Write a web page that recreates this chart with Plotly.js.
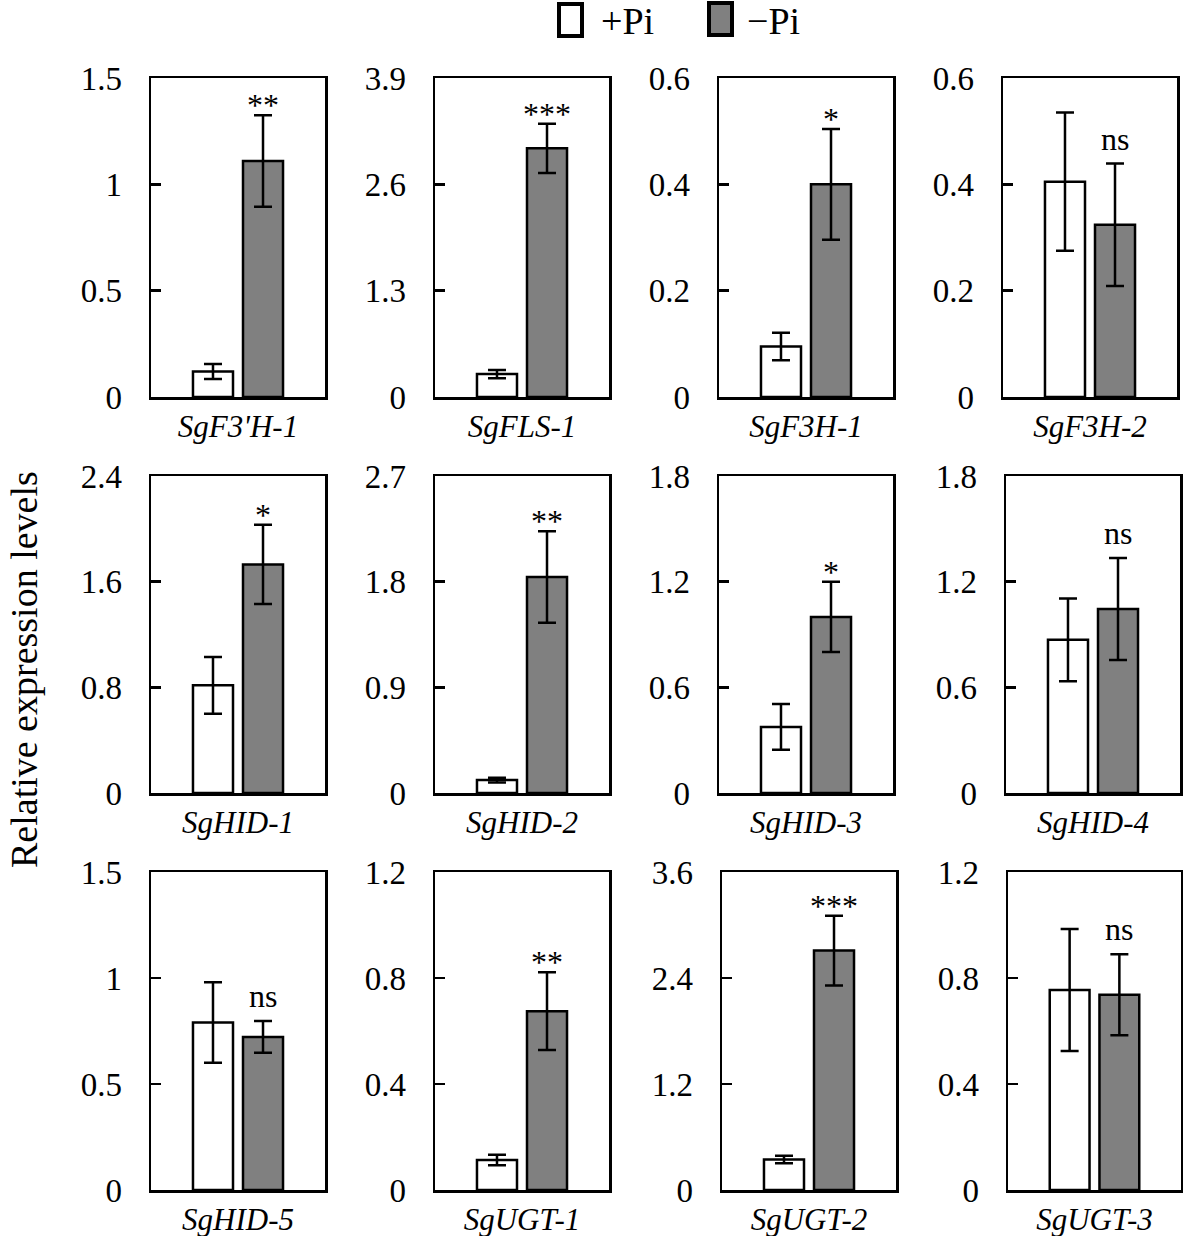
<!DOCTYPE html>
<html>
<head>
<meta charset="utf-8">
<script src="https://cdn.plot.ly/plotly-3.0.1.min.js"></script>
<style>html,body{margin:0;padding:0;background:#fff;}</style>
</head>
<body>
<div id="chart" style="width:1183px;height:1236px;"></div>
<script>
// ---- data ----
const genes = ["SgF3'H-1","SgFLS-1","SgF3H-1","SgF3H-2","SgHID-1","SgHID-2","SgHID-3","SgHID-4","SgHID-5","SgUGT-1","SgUGT-2","SgUGT-3"];
const plusPi      = [0.12, 0.28, 0.095, 0.405, 0.815, 0.11, 0.375, 0.87, 0.79, 0.113, 0.345, 0.755];
const plusPiErr   = [0.035, 0.05, 0.026, 0.13, 0.215, 0.02, 0.13, 0.235, 0.19, 0.02, 0.043, 0.23];
const minusPi     = [1.11, 3.04, 0.40, 0.324, 1.73, 1.84, 1.0, 1.045, 0.722, 0.675, 2.71, 0.737];
const minusPiErr  = [0.215, 0.30, 0.104, 0.115, 0.30, 0.39, 0.20, 0.29, 0.075, 0.147, 0.395, 0.153];
const signif      = ["**","***","*","ns","*","**","*","ns","ns","**","***","ns"];
const yMax        = [1.5, 3.9, 0.6, 0.6, 2.4, 2.7, 1.8, 1.8, 1.5, 1.2, 3.6, 1.2];
const yTickLabels = [
  ["0","0.5","1","1.5"],["0","1.3","2.6","3.9"],["0","0.2","0.4","0.6"],["0","0.2","0.4","0.6"],
  ["0","0.8","1.6","2.4"],["0","0.9","1.8","2.7"],["0","0.6","1.2","1.8"],["0","0.6","1.2","1.8"],
  ["0","0.5","1","1.5"],["0","0.4","0.8","1.2"],["0","1.2","2.4","3.6"],["0","0.4","0.8","1.2"]
];
const seriesNames = ["+Pi", "\u2212Pi"];
const yTitle = "Relative expression levels";

// ---- layout geometry (pixels) ----
const W = 1183, H = 1236;
const panelX = [[151,325],[435,609],[719,893],[1003,1177],
                [151,325],[435,609],[719,893],[1006,1180],
                [151,325],[435,609],[722,896],[1008,1181]];
const rowY = [[78,397],[476,793],[872,1190]];
const FONT = "Liberation Serif, Times New Roman, serif";
const bargap = 0.425, bargroupgap = 0.2;
const grayOffset = (1 - bargap) / 4; // center of 2nd bar in category units

const px = x => x / W;
const py = y => 1 - y / H;

const data = [];
const layout = {
  width: W, height: H,
  margin: {l:0, r:0, t:0, b:0},
  paper_bgcolor: "white", plot_bgcolor: "white",
  barmode: "group", bargap: bargap, bargroupgap: bargroupgap,
  showlegend: false,
  font: {family: FONT, color: "black", size: 30},
  annotations: [], shapes: []
};

for (let i = 0; i < genes.length; i++) {
  const n = i === 0 ? "" : String(i + 1);
  const xa = "x" + n, ya = "y" + n;
  const row = Math.floor(i / 4);
  data.push({
    type: "bar", name: seriesNames[0], x: [genes[i]], y: [plusPi[i]],
    xaxis: xa, yaxis: ya,
    marker: {color: "white", line: {color: "black", width: 2.5}},
    error_y: {type: "data", array: [plusPiErr[i]], visible: true, color: "black", thickness: 2.5, width: 9},
    hoverinfo: "skip"
  });
  data.push({
    type: "bar", name: seriesNames[1], x: [genes[i]], y: [minusPi[i]],
    xaxis: xa, yaxis: ya,
    marker: {color: "#808080", line: {color: "black", width: 2.5}},
    error_y: {type: "data", array: [minusPiErr[i]], visible: true, color: "black", thickness: 2.5, width: 9},
    hoverinfo: "skip"
  });
  const tv = yTickLabels[i].map(Number);
  layout["xaxis" + n] = {
    domain: [px(panelX[i][0]), px(panelX[i][1])],
    anchor: ya, type: "category", range: [-0.5, 0.5],
    showline: true, mirror: true, linecolor: "black", linewidth: 2.5,
    ticks: "", showgrid: false, zeroline: false,
    tickvals: [genes[i]], ticktext: ["<i>" + genes[i] + "</i>"],
    tickfont: {family: FONT, size: 31, color: "black"},
    ticklabelstandoff: 0, automargin: false, fixedrange: true
  };
  layout["yaxis" + n] = {
    domain: [py(rowY[row][1]), py(rowY[row][0])],
    anchor: xa, range: [0, yMax[i]],
    showline: true, mirror: true, linecolor: "black", linewidth: 2.5,
    ticks: "inside", ticklen: 10, tickwidth: 2.5, tickcolor: "black",
    tickvals: tv, ticktext: yTickLabels[i],
    tickfont: {family: FONT, size: 33, color: "black"},
    showgrid: false, zeroline: false,
    ticklabelstandoff: 20, automargin: false, fixedrange: true
  };
  const isNs = signif[i] === "ns";
  layout.annotations.push({
    xref: xa, yref: ya, x: grayOffset, y: minusPi[i] + minusPiErr[i],
    text: signif[i], showarrow: false, xanchor: "center", yanchor: "bottom",
    yshift: isNs ? 5 : -10,
    font: {family: FONT, size: 32, color: "black"}
  });
}

// y-axis title
layout.annotations.push({
  xref: "paper", yref: "paper", x: px(24), y: py(670),
  text: yTitle, textangle: -90, showarrow: false,
  xanchor: "center", yanchor: "middle",
  font: {family: FONT, size: 38, color: "black"}
});

// legend (drawn manually)
layout.shapes.push({type: "rect", xref: "paper", yref: "paper",
  x0: px(559), x1: px(582), y0: py(36), y1: py(4),
  fillcolor: "white", line: {color: "black", width: 4}});
layout.shapes.push({type: "rect", xref: "paper", yref: "paper",
  x0: px(709), x1: px(732), y0: py(35), y1: py(3),
  fillcolor: "#808080", line: {color: "black", width: 4}});
layout.annotations.push({xref: "paper", yref: "paper", x: px(599), y: py(21),
  text: seriesNames[0], showarrow: false, xanchor: "left", yanchor: "middle",
  font: {family: FONT, size: 38, color: "black"}});
layout.annotations.push({xref: "paper", yref: "paper", x: px(745), y: py(21),
  text: seriesNames[1], showarrow: false, xanchor: "left", yanchor: "middle",
  font: {family: FONT, size: 38, color: "black"}});

Plotly.newPlot("chart", data, layout, {staticPlot: true, displayModeBar: false});
</script>
</body>
</html>
